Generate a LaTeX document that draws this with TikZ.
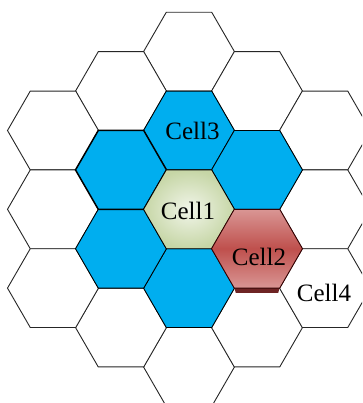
\documentclass[tikz,border=0pt]{standalone}
\usepackage{fontspec}
\setmainfont{Liberation Serif}
\definecolor{cellblue}{HTML}{00AEEF}
\definecolor{redlight}{HTML}{D99694}
\definecolor{reddark}{HTML}{BF504D}
\definecolor{redshadow}{HTML}{6E2424}
\definecolor{greenin}{HTML}{F1F5E9}
\definecolor{greenout}{HTML}{C6D6A6}
\newcommand{\hexshape}{(-45.5,0) -- (-22.75,-39.4) -- (22.75,-39.4) -- (45.5,0) -- (22.75,39.4) -- (-22.75,39.4) -- cycle}
\tikzset{
  hexline/.style={draw=black!85, line width=0.9pt, line join=miter},
  whitehex/.style={hexline, fill=white},
  bluehex/.style={hexline, draw=black, fill=cellblue},
  celllabel/.style={inner sep=0pt, font=\fontsize{25}{25}\selectfont, text=black}
}
\begin{document}
\begin{tikzpicture}[x=1pt, y=-1pt]
\useasboundingbox (0,0) rectangle (362,403);
\clip (0,0) rectangle (362,403);
% white cells
\foreach \cx/\cy in {189/51.7, 189/366.9,
  121/91.1, 121/327.5, 257/91.1, 257/327.5,
  53/130.5, 53/209.3, 53/288.1,
  325/130.5, 325/209.3, 325/288.1}
  {\path[whitehex, shift={(\cx,\cy)}] \hexshape;}
% blue neighbours
\foreach \cx/\cy in {189/130.5, 257/169.9, 189/288.1, 121/248.7}
  {\path[bluehex, shift={(\cx,\cy)}] \hexshape;}
\path[bluehex, line width=1.5pt, shift={(121,169.9)}] \hexshape;
% Cell1
\shade[shift={(189,209.3)}, inner color=greenin, outer color=greenout] \hexshape;
\draw[hexline, draw=black, shift={(189,209.3)}] \hexshape;
% Cell2 shadow and cell
\fill[redshadow] (234.5,287.6) -- (279.5,287.6) -- (278.3,292.8) -- (235.7,292.8) -- cycle;
\shade[shift={(257,248.7)}, top color=redlight, bottom color=redlight, middle color=reddark] \hexshape;
\draw[hexline, draw=black!80!red, shift={(257,248.7)}] \hexshape;
% labels
\node[celllabel] (cell3) at (192.5,131) {Cell3};
\node[celllabel] (cell1) at (188,210.5) {Cell1};
\node[celllabel] (cell2) at (259,256.7) {Cell2};
\node[celllabel] (cell4) at (324,293) {Cell4};
\end{tikzpicture}
\end{document}
